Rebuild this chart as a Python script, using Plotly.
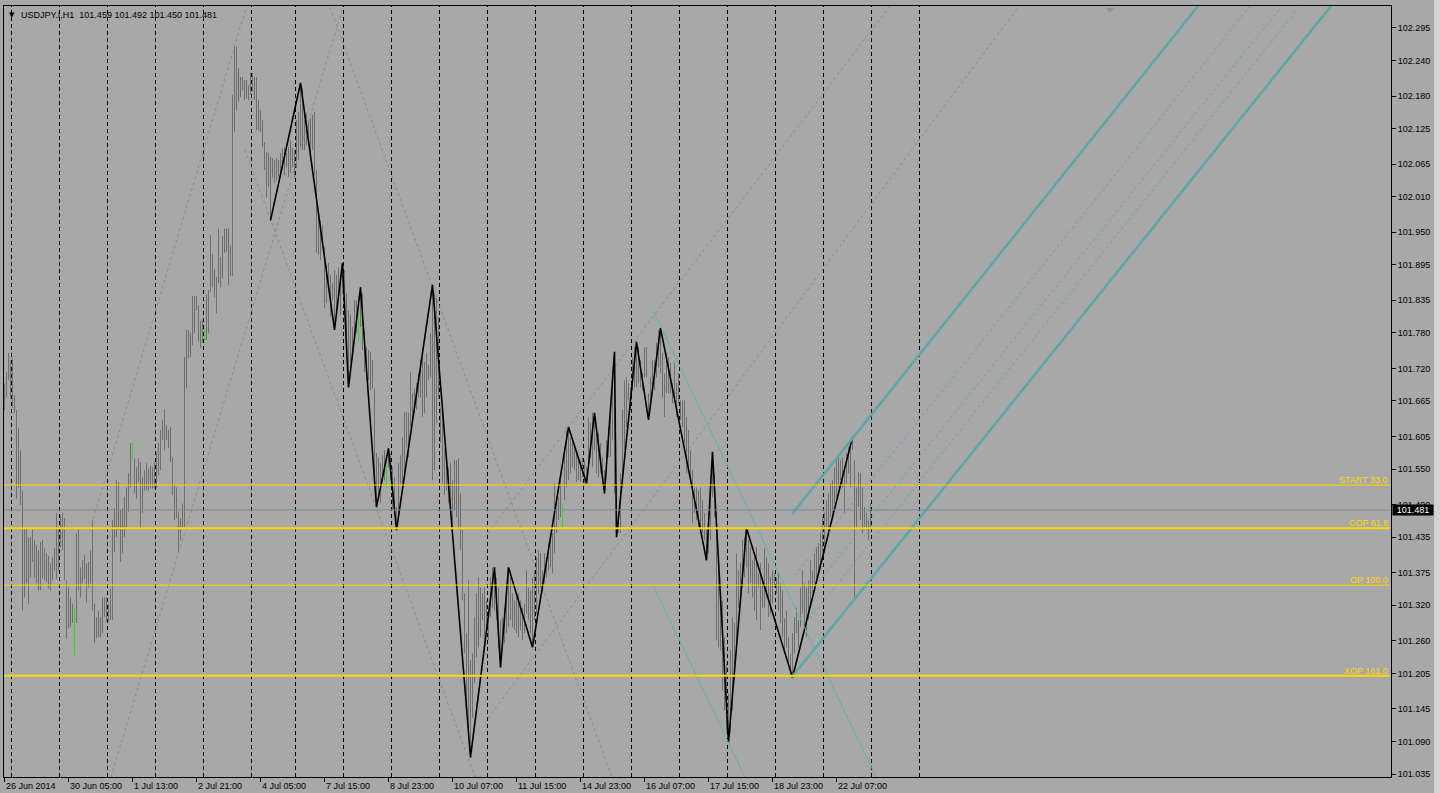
import plotly.graph_objects as go

# USDJPY.I, H1 bars (bar 0 = leftmost hour on screen)
bar_high = [
    101.695, 101.714, 101.746, 101.734, 101.737, 101.675, 101.650, 101.619, 101.582, 101.514,
    101.450, 101.449, 101.435, 101.435, 101.450, 101.430, 101.422, 101.413, 101.427, 101.430,
    101.416, 101.408, 101.403, 101.391, 101.401, 101.416, 101.476, 101.452, 101.472, 101.476,
    101.467, 101.362, 101.350, 101.333, 101.323, 101.316, 101.442, 101.452, 101.384, 101.396,
    101.405, 101.391, 101.393, 101.413, 101.464, 101.323, 101.300, 101.311, 101.300, 101.333,
    101.333, 101.333, 101.323, 101.348, 101.464, 101.484, 101.531, 101.528, 101.481, 101.484,
    101.503, 101.519, 101.543, 101.594, 101.594, 101.568, 101.553, 101.568, 101.562, 101.536,
    101.548, 101.560, 101.551, 101.556, 101.553, 101.562, 101.579, 101.594, 101.616, 101.633,
    101.651, 101.624, 101.616, 101.621, 101.570, 101.523, 101.519, 101.477, 101.467, 101.492,
    101.739, 101.785, 101.785, 101.780, 101.842, 101.842, 101.842, 101.827, 101.800, 101.802,
    101.788, 101.845, 101.852, 101.945, 101.913, 101.888, 101.874, 101.956, 101.908, 101.944,
    101.956, 101.956, 101.957, 101.927, 102.182, 102.266, 102.263, 102.227, 102.212, 102.212,
    102.207, 102.207, 102.198, 102.219, 102.219, 102.212, 102.212, 102.173, 102.156, 102.139,
    102.102, 102.085, 102.084, 102.077, 102.075, 102.072, 102.075, 102.072, 102.084, 102.092,
    102.094, 102.084, 102.094, 102.106, 102.092, 102.089, 102.139, 102.153, 102.202, 102.194,
    102.148, 102.151, 102.139, 102.143, 102.148, 102.153, 102.055, 101.975, 101.970, 101.962,
    101.925, 101.895, 101.898, 101.878, 101.864, 101.886, 101.878, 101.890, 101.878, 101.898,
    101.886, 101.847, 101.818, 101.810, 101.790, 101.835, 101.835, 101.822, 101.857, 101.847,
    101.785, 101.756, 101.751, 101.748, 101.734, 101.686, 101.577, 101.570, 101.560, 101.573,
    101.582, 101.556, 101.585, 101.577, 101.553, 101.536, 101.486, 101.560, 101.573, 101.604,
    101.646, 101.646, 101.645, 101.714, 101.678, 101.686, 101.695, 101.712, 101.734, 101.739,
    101.731, 101.746, 101.726, 101.780, 101.861, 101.847, 101.839, 101.807, 101.654, 101.645,
    101.585, 101.568, 101.553, 101.560, 101.531, 101.565, 101.565, 101.568, 101.509, 101.447,
    101.340, 101.273, 101.362, 101.227, 101.239, 101.300, 101.340, 101.367, 101.350, 101.340,
    101.350, 101.328, 101.295, 101.367, 101.384, 101.384, 101.367, 101.350, 101.295, 101.300,
    101.316, 101.340, 101.384, 101.367, 101.340, 101.328, 101.340, 101.340, 101.328, 101.316,
    101.323, 101.379, 101.350, 101.345, 101.367, 101.379, 101.401, 101.413, 101.408, 101.379,
    101.408, 101.401, 101.425, 101.430, 101.442, 101.526, 101.503, 101.503, 101.531, 101.492,
    101.582, 101.616, 101.621, 101.604, 101.599, 101.587, 101.577, 101.570, 101.565, 101.570,
    101.565, 101.553, 101.638, 101.628, 101.645, 101.645, 101.611, 101.611, 101.594, 101.570,
    101.548, 101.599, 101.621, 101.645, 101.722, 101.748, 101.526, 101.476, 101.543, 101.650,
    101.700, 101.705, 101.695, 101.688, 101.739, 101.756, 101.765, 101.756, 101.734, 101.712,
    101.756, 101.756, 101.678, 101.705, 101.734, 101.734, 101.763, 101.785, 101.788, 101.746,
    101.712, 101.746, 101.739, 101.729, 101.695, 101.729, 101.695, 101.712, 101.666, 101.666,
    101.666, 101.638, 101.616, 101.582, 101.548, 101.519, 101.519, 101.514, 101.519, 101.497,
    101.476, 101.447, 101.476, 101.519, 101.579, 101.543, 101.476, 101.396, 101.345, 101.328,
    101.266, 101.222, 101.171, 101.244, 101.300, 101.290, 101.408, 101.379, 101.391, 101.430,
    101.435, 101.450, 101.430, 101.418, 101.396, 101.401, 101.418, 101.374, 101.391, 101.367,
    101.416, 101.401, 101.391, 101.367, 101.379, 101.374, 101.367, 101.374, 101.357, 101.345,
    101.298, 101.311, 101.266, 101.239, 101.273, 101.300, 101.316, 101.295, 101.350, 101.379,
    101.357, 101.350, 101.362, 101.396, 101.379, 101.408, 101.418, 101.425, 101.442, 101.469,
    101.476, 101.497, 101.509, 101.526, 101.531, 101.553, 101.570, 101.570, 101.565, 101.570,
    101.548, 101.577, 101.587, 101.594, 101.604, 101.565, 101.519, 101.545, 101.543, 101.519,
    101.486, 101.476, 101.464, 101.492,
]
bar_low = [
    101.650, 101.671, 101.700, 101.669, 101.654, 101.645, 101.500, 101.519, 101.489, 101.311,
    101.333, 101.357, 101.323, 101.367, 101.393, 101.367, 101.357, 101.345, 101.345, 101.365,
    101.362, 101.359, 101.348, 101.345, 101.362, 101.379, 101.365, 101.379, 101.418, 101.413,
    101.362, 101.264, 101.281, 101.283, 101.290, 101.236, 101.290, 101.345, 101.333, 101.357,
    101.365, 101.325, 101.350, 101.357, 101.311, 101.256, 101.264, 101.266, 101.266, 101.273,
    101.300, 101.292, 101.292, 101.295, 101.295, 101.410, 101.435, 101.447, 101.393, 101.408,
    101.435, 101.450, 101.477, 101.519, 101.568, 101.509, 101.500, 101.528, 101.450, 101.476,
    101.514, 101.514, 101.514, 101.517, 101.517, 101.517, 101.517, 101.540, 101.548, 101.599,
    101.582, 101.599, 101.585, 101.562, 101.506, 101.464, 101.467, 101.408, 101.430, 101.452,
    101.452, 101.686, 101.737, 101.739, 101.759, 101.780, 101.818, 101.765, 101.754, 101.763,
    101.765, 101.768, 101.780, 101.849, 101.857, 101.840, 101.813, 101.864, 101.857, 101.872,
    101.915, 101.917, 101.861, 101.876, 101.876, 102.119, 102.156, 102.170, 102.178, 102.190,
    102.173, 102.176, 102.173, 102.182, 102.187, 102.173, 102.122, 102.122, 102.119, 102.094,
    102.055, 102.008, 102.026, 101.970, 102.041, 102.033, 102.038, 102.043, 102.050, 102.055,
    102.046, 102.060, 102.043, 102.050, 102.060, 102.041, 102.058, 102.072, 102.094, 102.089,
    102.089, 102.097, 102.114, 102.084, 102.089, 102.046, 101.915, 101.912, 101.903, 101.928,
    101.822, 101.830, 101.852, 101.807, 101.835, 101.785, 101.818, 101.844, 101.810, 101.847,
    101.840, 101.739, 101.688, 101.729, 101.734, 101.763, 101.780, 101.765, 101.790, 101.751,
    101.714, 101.712, 101.700, 101.683, 101.686, 101.519, 101.486, 101.509, 101.492, 101.526,
    101.531, 101.517, 101.553, 101.531, 101.481, 101.486, 101.447, 101.469, 101.526, 101.526,
    101.536, 101.587, 101.570, 101.621, 101.633, 101.645, 101.650, 101.671, 101.671, 101.638,
    101.645, 101.671, 101.700, 101.705, 101.531, 101.548, 101.628, 101.669, 101.594, 101.526,
    101.506, 101.514, 101.492, 101.486, 101.452, 101.481, 101.469, 101.452, 101.413, 101.328,
    101.239, 101.154, 101.097, 101.063, 101.130, 101.188, 101.232, 101.249, 101.266, 101.295,
    101.261, 101.273, 101.261, 101.300, 101.316, 101.311, 101.295, 101.249, 101.215, 101.249,
    101.256, 101.273, 101.283, 101.295, 101.283, 101.278, 101.273, 101.266, 101.278, 101.261,
    101.273, 101.306, 101.295, 101.273, 101.249, 101.295, 101.306, 101.340, 101.350, 101.340,
    101.357, 101.367, 101.379, 101.384, 101.374, 101.408, 101.442, 101.464, 101.469, 101.452,
    101.497, 101.519, 101.531, 101.543, 101.553, 101.548, 101.528, 101.531, 101.528, 101.536,
    101.526, 101.526, 101.553, 101.570, 101.553, 101.582, 101.543, 101.536, 101.543, 101.526,
    101.509, 101.553, 101.570, 101.570, 101.599, 101.509, 101.435, 101.442, 101.442, 101.519,
    101.582, 101.621, 101.666, 101.650, 101.683, 101.688, 101.688, 101.695, 101.688, 101.683,
    101.705, 101.705, 101.633, 101.650, 101.678, 101.683, 101.705, 101.722, 101.712, 101.671,
    101.638, 101.678, 101.678, 101.678, 101.661, 101.666, 101.638, 101.661, 101.633, 101.621,
    101.594, 101.543, 101.553, 101.536, 101.459, 101.476, 101.464, 101.452, 101.452, 101.442,
    101.430, 101.396, 101.408, 101.430, 101.503, 101.469, 101.261, 101.249, 101.244, 101.176,
    101.142, 101.104, 101.089, 101.104, 101.142, 101.193, 101.239, 101.316, 101.323, 101.350,
    101.367, 101.384, 101.340, 101.357, 101.333, 101.311, 101.295, 101.350, 101.278, 101.316,
    101.316, 101.333, 101.300, 101.306, 101.323, 101.350, 101.340, 101.311, 101.290, 101.266,
    101.239, 101.249, 101.222, 101.205, 101.198, 101.239, 101.273, 101.249, 101.283, 101.306,
    101.283, 101.266, 101.295, 101.316, 101.340, 101.357, 101.357, 101.374, 101.379, 101.408,
    101.408, 101.447, 101.447, 101.469, 101.469, 101.492, 101.503, 101.519, 101.531, 101.519,
    101.476, 101.526, 101.543, 101.519, 101.582, 101.333, 101.452, 101.486, 101.464, 101.442,
    101.452, 101.447, 101.430, 101.450,
]
green_bars = [35, 64, 100, 177, 191, 279]

# ZigZag swing points
zigzag_bars = [133, 148, 165, 169, 172, 178, 186, 192, 196, 214, 233, 245, 248, 252, 264,
               282, 291, 295, 300, 305, 306, 316, 322, 328, 351, 354, 362, 371, 394, 424]
zigzag_prices = [101.970, 102.202, 101.785, 101.898, 101.688, 101.857, 101.486, 101.585,
                 101.447, 101.861, 101.063, 101.384, 101.215, 101.384, 101.249, 101.621,
                 101.526, 101.645, 101.509, 101.748, 101.435, 101.765, 101.633, 101.788,
                 101.396, 101.579, 101.089, 101.450, 101.198, 101.604]

# horizontal levels
level_names = ["START 33.0", "COP 61.8", "OP 100.0", "XOP 161.0"]
level_prices = [101.523, 101.450, 101.354, 101.201]
level_widths = [1, 2, 1, 2]
last_price = 101.481

# trend lines: [bar0, price0, bar1, price1]
gray_dashed_lines = [
    [42.75, 101.447, 120.75, 102.329],
    [53.25, 101.030, 169.25, 102.330],
    [162.75, 102.330, 303.75, 101.030],
    [120.25, 102.089, 235.25, 101.030],
    [241.75, 101.442, 442.75, 102.332],
    [241.75, 101.129, 507.25, 102.332],
]
cyan_thin_lines = [
    [324.25, 101.818, 435.75, 101.030],
    [324.25, 101.354, 370.25, 101.030],
]
cyan_thick_lines = [
    [393.75, 101.474, 596.75, 102.332],
    [393.75, 101.199, 663.25, 102.332],
]
cyan_dashed_lines = [
    [395.25, 101.371, 622.75, 102.332],
    [397.75, 101.320, 638.75, 102.332],
    [402.75, 101.298, 647.75, 102.332],
]

# axes
time_tick_bars = [0, 32, 64, 96, 128, 160, 192, 224, 256, 288, 320, 352, 384, 416]
time_tick_labels = ["26 Jun 2014", "30 Jun 05:00", "1 Jul 13:00", "2 Jul 21:00", "4 Jul 05:00",
                    "7 Jul 15:00", "8 Jul 23:00", "10 Jul 07:00", "11 Jul 15:00", "14 Jul 23:00",
                    "16 Jul 07:00", "17 Jul 15:00", "18 Jul 23:00", "22 Jul 07:00"]
separator_bars = [3.5, 27.5, 51.5, 75.5, 99.5, 123.5, 145.5, 169.5, 193.5, 217.5, 241.5,
                  265.5, 289.5, 313.5, 337.5, 361.5, 385.5, 409.5, 433.5, 457.5]
price_ticks = [102.295, 102.240, 102.180, 102.125, 102.065, 102.010, 101.950, 101.895,
               101.835, 101.780, 101.720, 101.665, 101.605, 101.550, 101.490, 101.435,
               101.375, 101.320, 101.260, 101.205, 101.145, 101.090, 101.035]

BG = "#A8A8A8"
FONT = "Liberation Sans, Arial, sans-serif"


def segments(idx):
    xs, ys = [], []
    for i in idx:
        xs += [i, i, None]
        ys += [bar_low[i], bar_high[i], None]
    return xs, ys


def line_trace(seg, color, width, dash="solid"):
    return go.Scatter(x=[seg[0], seg[2]], y=[seg[1], seg[3]], mode="lines",
                      line=dict(color=color, width=width, dash=dash),
                      hoverinfo="skip", showlegend=False)


fig = go.Figure()

gray_idx = [i for i in range(len(bar_high)) if i not in green_bars]
gx, gy = segments(gray_idx)
fig.add_trace(go.Scatter(x=gx, y=gy, mode="lines", line=dict(color="#6E6E6E", width=1),
                         hoverinfo="skip", showlegend=False))
gx, gy = segments(green_bars)
fig.add_trace(go.Scatter(x=gx, y=gy, mode="lines", line=dict(color="#22E022", width=1),
                         hoverinfo="skip", showlegend=False))

for seg in gray_dashed_lines:
    fig.add_trace(line_trace(seg, "#8A8A8A", 1, "3px,3px"))

fig.add_trace(go.Scatter(x=zigzag_bars, y=zigzag_prices, mode="lines",
                         line=dict(color="black", width=1.6),
                         hoverinfo="skip", showlegend=False))

for seg in cyan_thin_lines:
    fig.add_trace(line_trace(seg, "#62AFB1", 1))
for seg in cyan_thick_lines:
    fig.add_trace(line_trace(seg, "#5CA7AA", 2.5))
for seg in cyan_dashed_lines:
    fig.add_trace(line_trace(seg, "#5CA7AA", 1, "3px,3px"))

# small object marker near the top
fig.add_trace(go.Scatter(x=[552.75], y=[102.326], mode="markers",
                         marker=dict(symbol="triangle-down", size=7, color="#8795A5"),
                         hoverinfo="skip", showlegend=False))

shapes = []
for b in separator_bars:
    shapes.append(dict(type="line", xref="x", yref="paper", x0=b, x1=b, y0=0, y1=1,
                       line=dict(color="black", width=1, dash="4px,3px"), layer="below"))
shapes.append(dict(type="line", xref="paper", yref="y", x0=0, x1=1, y0=last_price, y1=last_price,
                   line=dict(color="#7A8B9C", width=1)))
for p, w in zip(level_prices, level_widths):
    shapes.append(dict(type="line", xref="paper", yref="y", x0=0, x1=0.9993, y0=p, y1=p,
                       line=dict(color="#FFD700", width=w)))
# window edge on the right
shapes.append(dict(type="rect", xref="paper", yref="paper", x0=1.0311, x1=1.04, y0=-0.03, y1=1.01,
                   fillcolor="#D4D4D4", line=dict(width=0), layer="above"))

annotations = []
for b, t in zip(time_tick_bars, time_tick_labels):
    annotations.append(dict(x=b, xref="x", y=0, yref="paper", xanchor="left", yanchor="top",
                            text=t, showarrow=False, yshift=-2, xshift=-1,
                            font=dict(family=FONT, size=9, color="black")))
for name, p in zip(level_names, level_prices):
    annotations.append(dict(x=1, xref="paper", y=p, yref="y", xanchor="right", yanchor="bottom",
                            text=name, showarrow=False, xshift=-1, yshift=-2,
                            font=dict(family=FONT, size=9, color="#FFD700")))
annotations.append(dict(x=1, xref="paper", y=last_price, yref="y", xanchor="left", yanchor="middle",
                        text="101.481", showarrow=False, xshift=1, bgcolor="black",
                        width=40, height=10, borderpad=0,
                        font=dict(family=FONT, size=9, color="white")))
annotations.append(dict(x=0, xref="paper", y=1, yref="paper", xanchor="left", yanchor="top",
                        text="USDJPY.I,H1  101.459 101.492 101.450 101.481", showarrow=False,
                        xshift=15, yshift=-2, font=dict(family=FONT, size=9, color="black")))
annotations.append(dict(x=0, xref="paper", y=1, yref="paper", xanchor="left", yanchor="top",
                        text="▼", showarrow=False, xshift=3, yshift=-3,
                        font=dict(family="DejaVu Sans", size=7, color="black")))

fig.update_layout(
    width=1440, height=793, autosize=False,
    margin=dict(l=4, r=49, t=6, b=16, pad=0),
    paper_bgcolor=BG, plot_bgcolor=BG,
    showlegend=False,
    shapes=shapes, annotations=annotations,
    xaxis=dict(range=[-0.25, 693.25], showgrid=False, zeroline=False,
               showline=True, linecolor="black", linewidth=1, mirror=True,
               tickvals=time_tick_bars, ticks="outside", ticklen=4, tickcolor="black",
               showticklabels=False, fixedrange=True),
    yaxis=dict(range=[101.030, 102.332], side="right", showgrid=False, zeroline=False,
               showline=True, linecolor="black", linewidth=1, mirror=True,
               tickvals=price_ticks, ticktext=["%.3f" % v for v in price_ticks],
               ticks="outside", ticklen=4, tickcolor="black",
               tickfont=dict(family=FONT, size=9, color="black"), fixedrange=True),
)

# the page's default body margin would shift the chart; remove it
fig.write_html("out.html", config={"displayModeBar": False},
               post_script="document.body.style.margin='0';document.body.style.overflow='hidden';")
